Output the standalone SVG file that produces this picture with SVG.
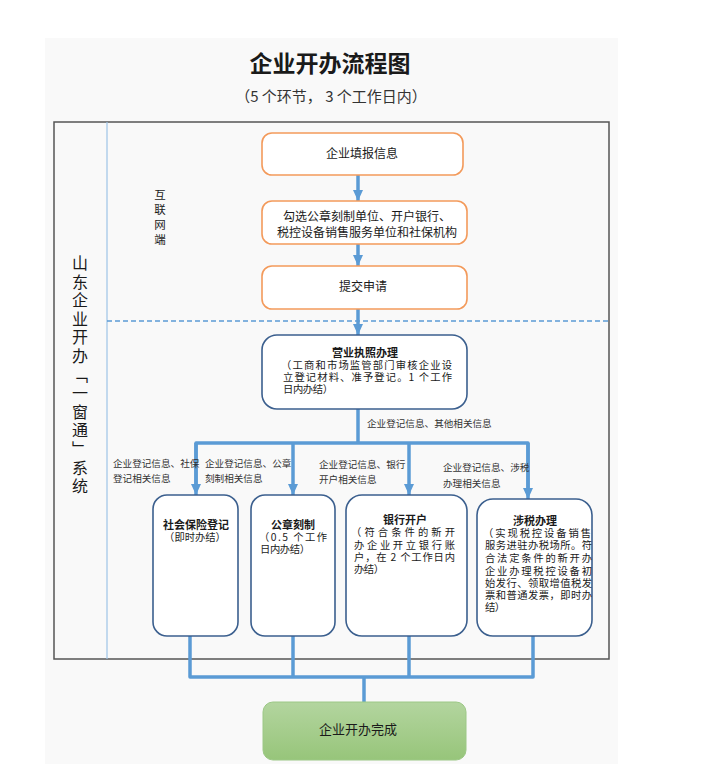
<svg xmlns="http://www.w3.org/2000/svg" width="724" height="764" viewBox="0 0 724 764">
<defs>
<style>
text{font-family:"Noto Sans CJK SC","Noto Sans",sans-serif;fill:#1a1a1a}
.orange{fill:#fff;stroke:#f39a5b;stroke-width:1.6}
.blue{fill:#fff;stroke:#3b5f8e;stroke-width:1.6}
.t12{font-size:12px}
.t11{font-size:10.3px}
.lbl{font-size:9.6px;fill:#333}
.h{font-weight:bold;font-size:11px}
.c{text-anchor:middle}
.conn{fill:none;stroke:#5b9bd5;stroke-width:3.5;stroke-linejoin:round}
</style>
<marker id="ah" markerUnits="userSpaceOnUse" markerWidth="12" markerHeight="10" refX="11" refY="5" orient="auto">
<path d="M0,0 L11,5 L0,10 Z" fill="#5b9bd5"/>
</marker>
<linearGradient id="g" x1="0" y1="0" x2="0" y2="1">
<stop offset="0" stop-color="#b3d59f"/>
<stop offset="1" stop-color="#97c57a"/>
</linearGradient>
</defs>
<rect x="0" y="0" width="724" height="764" fill="#fff"/>
<rect x="45" y="38" width="573" height="726" fill="#f9f9f9"/>
<text x="330" y="72" class="c" style="font-size:23px;font-weight:bold">企业开办流程图</text>
<text x="331" y="102" class="c" style="font-size:15px;fill:#333">（5 个环节， 3 个工作日内）</text>
<rect x="54" y="122" width="555" height="537" fill="none" stroke="#555" stroke-width="1.5"/>
<line x1="107" y1="122" x2="107" y2="659" stroke="#9dc3e6" stroke-width="1.2"/>
<line x1="107" y1="321" x2="609" y2="321" stroke="#5b9bd5" stroke-width="1.3" stroke-dasharray="5,3"/>
<g id="side-label">
<text x="80" y="255" writing-mode="vertical-rl" style="font-size:16px;letter-spacing:2.6px">山东企业开办「一窗通」系统</text>
</g>
<g id="net-label">
<text x="160" y="189" writing-mode="vertical-rl" style="font-size:11.5px;letter-spacing:3.5px">互联网端</text>
</g>
<g id="connectors">
<line class="conn" x1="358" y1="175" x2="358" y2="201" marker-end="url(#ah)"/>
<line class="conn" x1="358" y1="244" x2="358" y2="266" marker-end="url(#ah)"/>
<line class="conn" x1="358" y1="309" x2="358" y2="335" marker-end="url(#ah)"/>
<polyline class="conn" points="358,409 358,443"/>
<polyline class="conn" points="196,490 196,443 528,443 528,494"/>
<line class="conn" x1="196" y1="443" x2="196" y2="495" marker-end="url(#ah)"/>
<line class="conn" x1="293" y1="443" x2="293" y2="495" marker-end="url(#ah)"/>
<line class="conn" x1="409" y1="443" x2="409" y2="495" marker-end="url(#ah)"/>
<line class="conn" x1="528" y1="443" x2="528" y2="499" marker-end="url(#ah)"/>
<polyline class="conn" points="190,636 190,677 533,677 533,636"/>
<line class="conn" x1="293" y1="636" x2="293" y2="677"/>
<line class="conn" x1="409" y1="636" x2="409" y2="677"/>
<line class="conn" x1="364" y1="677" x2="364" y2="702"/>
<text x="367" y="427" class="lbl">企业登记信息、其他相关信息</text>
<text class="lbl"><tspan x="113" y="467">企业登记信息、社保</tspan><tspan x="113" y="482">登记相关信息</tspan></text>
<text class="lbl"><tspan x="205" y="467">企业登记信息、公章</tspan><tspan x="205" y="482">刻制相关信息</tspan></text>
<text class="lbl"><tspan x="319" y="468">企业登记信息、银行</tspan><tspan x="319" y="483">开户相关信息</tspan></text>
<text class="lbl"><tspan x="443" y="471">企业登记信息、涉税</tspan><tspan x="443" y="487">办理相关信息</tspan></text>
</g>
<g id="n1">
<rect class="orange" x="262" y="133" width="201" height="42" rx="10"/>
<text x="362" y="158" class="c t12">企业填报信息</text>
</g>
<g id="n2">
<rect class="orange" x="262" y="201" width="205" height="43" rx="10"/>
<text class="c t12"><tspan x="367" y="221">勾选公章刻制单位、开户银行、</tspan><tspan x="367" y="237">税控设备销售服务单位和社保机构</tspan></text>
</g>
<g id="n3">
<rect class="orange" x="262" y="266" width="205" height="43" rx="10"/>
<text x="363" y="291" class="c t12">提交申请</text>
</g>
<g id="n4">
<rect class="blue" x="262" y="335" width="205" height="74" rx="15"/>
<text class="t11"><tspan x="365" y="357" class="c h">营业执照办理</tspan><tspan x="281" y="369" textLength="171">（工商和市场监管部门审核企业设</tspan><tspan x="283" y="381" textLength="169">立登记材料、准予登记。1 个工作</tspan><tspan x="283" y="393" textLength="50">日内办结）</tspan></text>
</g>
<g id="n5">
<rect class="blue" x="153" y="495" width="85" height="141" rx="14"/>
<text class="t11 c"><tspan x="196" y="529" class="h">社会保险登记</tspan><tspan x="195" y="541">（即时办结）</tspan></text>
</g>
<g id="n6">
<rect class="blue" x="251" y="495" width="84" height="141" rx="14"/>
<text class="t11"><tspan x="293" y="529" class="c h">公章刻制</tspan><tspan x="259" y="541" textLength="68">（0.5 个工作</tspan><tspan x="260" y="553" textLength="50">日内办结）</tspan></text>
</g>
<g id="n7">
<rect class="blue" x="346" y="495" width="121" height="141" rx="16"/>
<text class="t11"><tspan x="405" y="524" class="c h">银行开户</tspan><tspan x="351" y="536" textLength="104">（符合条件的新开</tspan><tspan x="354" y="549" textLength="101">办企业开立银行账</tspan><tspan x="354" y="561" textLength="101">户，在 2 个工作日内</tspan><tspan x="354" y="573" textLength="30">办结）</tspan></text>
</g>
<g id="n8">
<rect class="blue" x="477" y="499" width="115" height="137" rx="16"/>
<text class="t11"><tspan x="535" y="525" class="c h">涉税办理</tspan><tspan x="483" y="537" textLength="108">（实现税控设备销售</tspan><tspan x="485" y="549" textLength="107">服务进驻办税场所。符</tspan><tspan x="485" y="562" textLength="107">合法定条件的新开办</tspan><tspan x="485" y="575" textLength="107">企业办理税控设备初</tspan><tspan x="485" y="587" textLength="107">始发行、领取增值税发</tspan><tspan x="485" y="599" textLength="107">票和普通发票，即时办</tspan><tspan x="485" y="611" textLength="20">结）</tspan></text>
</g>
<g id="n9">
<rect x="263" y="702" width="203" height="58" rx="10" fill="url(#g)" stroke="#9cc886" stroke-width="1"/>
<text x="358" y="734" class="c" style="font-size:13px">企业开办完成</text>
</g>
</svg>
